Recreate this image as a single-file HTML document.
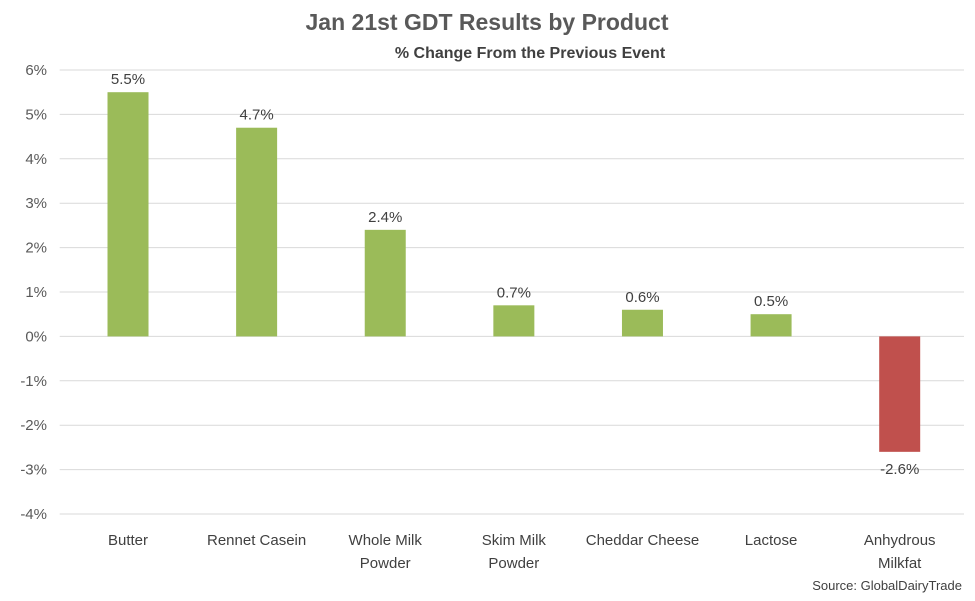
<!DOCTYPE html>
<html><head><meta charset="utf-8"><style>
body{margin:0;background:#fff;}
svg{display:block;font-family:"Liberation Sans",Calibri,sans-serif;}
</style></head><body>
<svg id="chart" width="975" height="601">
<text x="487" y="30" text-anchor="middle" font-size="23" font-weight="bold" fill="#595959">Jan 21st GDT Results by Product</text>
<text x="530" y="58" text-anchor="middle" font-size="16" font-weight="bold" fill="#404040">% Change From the Previous Event</text>
<g id="grid"></g><g id="bars"></g><g id="labels"></g>
<text x="962" y="590" text-anchor="end" font-size="13" fill="#404040">Source: GlobalDairyTrade</text>
</svg>
<script>
const categories=[["Butter"],["Rennet Casein"],["Whole Milk","Powder"],["Skim Milk","Powder"],["Cheddar Cheese"],["Lactose"],["Anhydrous","Milkfat"]];
const values=[5.5,4.7,2.4,0.7,0.6,0.5,-2.6];
const valueLabels=["5.5%","4.7%","2.4%","0.7%","0.6%","0.5%","-2.6%"];
const ticks=[6,5,4,3,2,1,0,-1,-2,-3,-4];
const ns="http://www.w3.org/2000/svg";
const x0=63.7,x1=964,yTop=70,yBot=514,vMax=6,vMin=-4;
const y=v=>yTop+(vMax-v)*(yBot-yTop)/(vMax-vMin);
const band=(x1-x0)/categories.length;
const xc=i=>x0+band*(i+0.5);
function mk(t,a,p){const e=document.createElementNS(ns,t);for(const k in a)e.setAttribute(k,a[k]);p.appendChild(e);return e;}
const grid=document.getElementById('grid'),bars=document.getElementById('bars'),labels=document.getElementById('labels');
ticks.forEach(t=>{
  const l=mk('line',{x1:x0-4,x2:x1,y1:y(t),y2:y(t),stroke:'#d9d9d9','stroke-width':1},grid);
  
  
  const tx=mk('text',{x:47,y:y(t)+5,'text-anchor':'end','font-size':15,fill:'#595959'},grid);
  tx.textContent=t+'%';
  
  
});
values.forEach((v,i)=>{
  const w=41,top=y(Math.max(v,0)),h=Math.abs(y(v)-y(0));
  const r=mk('rect',{x:xc(i)-w/2,y:top,width:w,height:h,fill:v>=0?'#9BBB59':'#C0504D'},bars);
  
  
  const vl=mk('text',{x:xc(i),y:v>=0?y(v)-8:y(v)+22,'text-anchor':'middle','font-size':15,fill:'#404040'},labels);
  vl.textContent=valueLabels[i];
  
  
  categories[i].forEach((line,j)=>{
    const c=mk('text',{x:xc(i),y:545+j*23,'text-anchor':'middle','font-size':15,fill:'#404040'},labels);
    c.textContent=line;
    
    
  });
});
</script>
</body></html>
